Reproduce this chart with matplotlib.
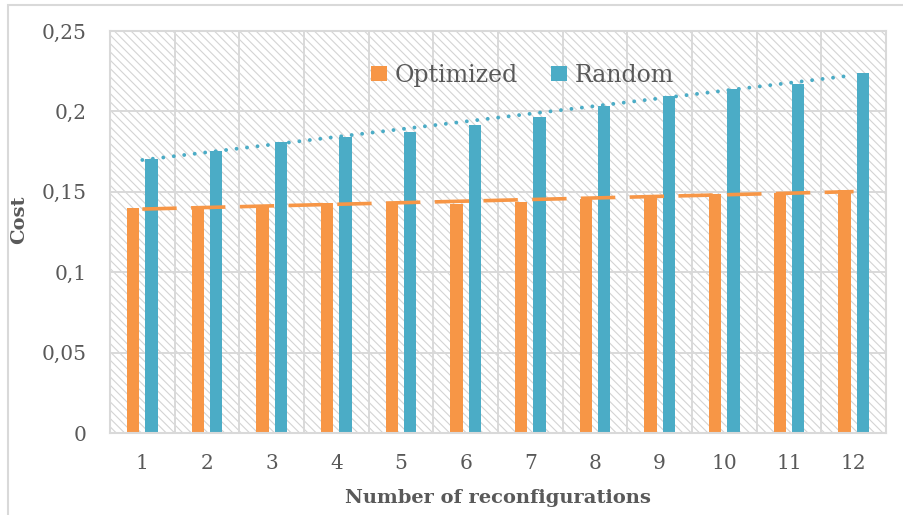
import numpy as np
import matplotlib.pyplot as plt
from matplotlib.patches import Rectangle

# Daten
kategorien = ['1', '2', '3', '4', '5', '6', '7', '8', '9', '10', '11', '12']
optimized = [0.1401, 0.1405, 0.1412, 0.1428, 0.1437, 0.1424, 0.1439, 0.1453, 0.1474, 0.1486, 0.1494, 0.1511]
random_ = [0.1702, 0.1756, 0.1810, 0.1843, 0.1872, 0.1915, 0.1965, 0.2034, 0.2096, 0.2137, 0.2170, 0.2237]
y_ticks = [0, 0.05, 0.1, 0.15, 0.2, 0.25]
y_ticklabels = ['0', '0,05', '0,1', '0,15', '0,2', '0,25']

orange = '#F79646'
blau = '#4BACC6'
grau = '#D9D9D9'
text_farbe = '#595959'

plt.rcParams['font.family'] = ['DejaVu Serif']
plt.rcParams['hatch.linewidth'] = 0.8

fig = plt.figure(figsize=(9.04, 5.15), dpi=100)
ax = fig.add_axes([0.1217, 0.1592, 0.8583, 0.7806])

# aeusserer Rahmen
fig.patches.append(Rectangle((0.0088, -0.1), 1.2, 1.0903, transform=fig.transFigure,
                             fill=False, edgecolor=grau, lw=1.5))

# schraffierter Hintergrund
ax.add_patch(Rectangle((0, 0), 1, 1, transform=ax.transAxes, facecolor='white',
                       edgecolor='#D4D4D4', hatch='\\\\\\\\', lw=0, zorder=0))

x = np.arange(1, len(kategorien) + 1)
breite = 0.19
ax.bar(x - 0.141, optimized, breite, color=orange, zorder=3, label='Optimized')
ax.bar(x + 0.141, random_, breite, color=blau, zorder=3, label='Random')

# lineare Trendlinien
p_opt = np.polyfit(x, optimized, 1)
p_ran = np.polyfit(x, random_, 1)
ax.plot(x, np.polyval(p_opt, x), color=orange, lw=2.6, linestyle=(0, (9.5, 4)),
        solid_capstyle='round', zorder=4)
ax.plot(x, np.polyval(p_ran, x), color=blau, lw=2.8, linestyle=(0, (0.01, 2.7)),
        dash_capstyle='round', zorder=4)

ax.set_xlim(0.5, 12.5)
ax.set_ylim(0, 0.25)
ax.set_xticks(x)
ax.set_xticklabels(kategorien)
ax.set_yticks(y_ticks)
ax.set_yticklabels(y_ticklabels)

# Gitter
for g in np.arange(1.5, 12.5, 1):
    ax.axvline(g, color=grau, lw=1.4, zorder=1)
for t in y_ticks[1:-1]:
    ax.axhline(t, color=grau, lw=1.4, zorder=1)

for s in ax.spines.values():
    s.set_color(grau)
    s.set_linewidth(1.5)
    s.set_zorder(5)

ax.tick_params(length=0, labelsize=14.5, colors=text_farbe)
ax.tick_params(axis='y', pad=17)
ax.tick_params(axis='x', pad=15)

ax.set_xlabel('Number of reconfigurations', fontsize=14, fontweight='bold', color=text_farbe)
ax.xaxis.set_label_coords(0.5, -0.14)
ax.set_ylabel('Cost', fontsize=14, fontweight='bold', color=text_farbe)
ax.yaxis.set_label_coords(-0.106, 0.53)

ax.legend(loc='center', bbox_to_anchor=(0.532, 0.89), ncol=2, frameon=False,
          fontsize=17, handlelength=0.65, handleheight=0.65, handletextpad=0.35,
          columnspacing=1.4, labelcolor=text_farbe)

plt.savefig('out.png', dpi=100)
